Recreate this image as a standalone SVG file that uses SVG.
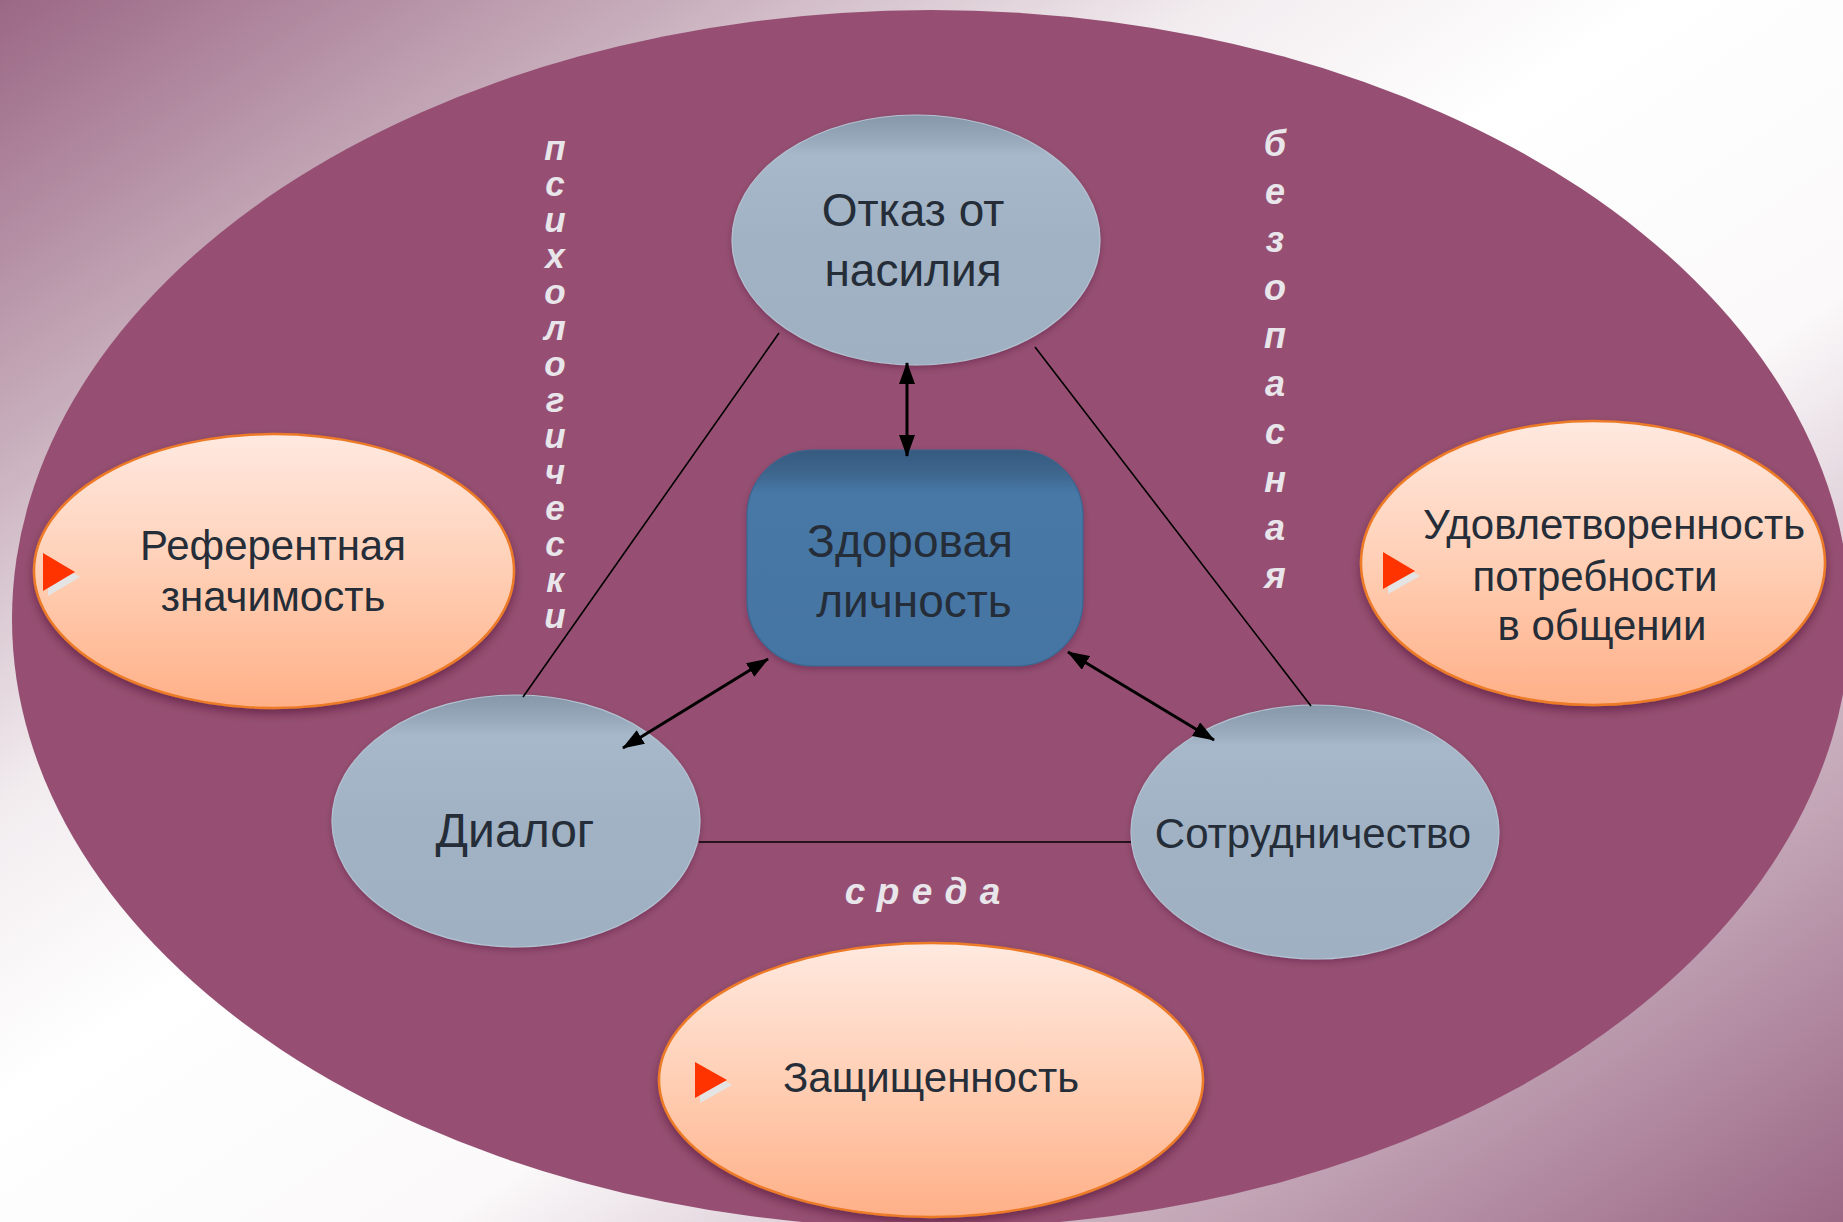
<svg xmlns="http://www.w3.org/2000/svg" width="1843" height="1222" viewBox="0 0 1843 1222">
<defs>
<style>
.t{font-family:"Liberation Sans",Arial,sans-serif;fill:#252d38;text-anchor:middle}
.v{font-family:"Liberation Sans",Arial,sans-serif;font-weight:bold;font-style:italic;fill:#e8e6ea;text-anchor:middle}
.orange{fill:url(#og);stroke:#ec7a26;stroke-width:2.5;filter:url(#sh)}
.puck{fill:url(#pg);stroke:#b3c3d3;stroke-width:1.2;filter:url(#sh2)}
.ln{stroke:#000;stroke-width:1.6;fill:none}
.ar{stroke:#000;stroke-width:3;fill:none;marker-start:url(#ah);marker-end:url(#ah)}
.tri{fill:#ff3300}
.tris{fill:#e4e4e4}
</style>
<linearGradient id="bg" x1="0" y1="0" x2="1" y2="1">
<stop offset="0" stop-color="#9b6785"/>
<stop offset="0.18" stop-color="#c7adbb"/>
<stop offset="0.33" stop-color="#f2ecef"/>
<stop offset="0.45" stop-color="#ffffff"/>
<stop offset="0.62" stop-color="#fbf9fa"/>
<stop offset="0.8" stop-color="#c8aebd"/>
<stop offset="1" stop-color="#9b6785"/>
</linearGradient>
<linearGradient id="og" x1="0" y1="0" x2="0" y2="1">
<stop offset="0" stop-color="#ffe9e0"/>
<stop offset="0.5" stop-color="#ffcfb5"/>
<stop offset="1" stop-color="#ffb088"/>
</linearGradient>
<linearGradient id="pg" x1="0" y1="0" x2="0" y2="1">
<stop offset="0" stop-color="#8597a8"/>
<stop offset="0.1" stop-color="#97a9ba"/>
<stop offset="0.16" stop-color="#a6b8c9"/>
<stop offset="0.5" stop-color="#a0b2c4"/>
<stop offset="1" stop-color="#9eb0c2"/>
</linearGradient>
<linearGradient id="rg" x1="0" y1="0" x2="0" y2="1">
<stop offset="0" stop-color="#365a7e"/>
<stop offset="0.12" stop-color="#3f6890"/>
<stop offset="0.2" stop-color="#4778a6"/>
<stop offset="1" stop-color="#4575a3"/>
</linearGradient>
<filter id="sh" x="-10%" y="-10%" width="120%" height="130%">
<feDropShadow dx="0" dy="5" stdDeviation="5" flood-color="#3a1026" flood-opacity="0.45"/>
</filter>
<filter id="sh2" x="-10%" y="-10%" width="120%" height="130%">
<feDropShadow dx="0" dy="3" stdDeviation="3" flood-color="#3a1026" flood-opacity="0.3"/>
</filter>
<marker id="ah" viewBox="0 0 22 16" refX="21" refY="8" markerWidth="22" markerHeight="16" markerUnits="userSpaceOnUse" orient="auto-start-reverse">
<path d="M0,0 L22,8 L0,16 z" fill="#000"/>
</marker>
</defs>

<rect id="background" x="0" y="0" width="1843" height="1222" fill="url(#bg)"/>
<ellipse id="outer" cx="931" cy="619" rx="919" ry="609" fill="#964f72"/>

<g id="label-psych">
<text class="v" font-size="35">
<tspan x="555" y="160">п</tspan><tspan x="555" y="196">с</tspan><tspan x="555" y="232">и</tspan><tspan x="555" y="268">х</tspan><tspan x="555" y="304">о</tspan><tspan x="555" y="340">л</tspan><tspan x="555" y="376">о</tspan><tspan x="555" y="412">г</tspan><tspan x="555" y="448">и</tspan><tspan x="555" y="484">ч</tspan><tspan x="555" y="520">е</tspan><tspan x="555" y="556">с</tspan><tspan x="555" y="592">к</tspan><tspan x="555" y="628">и</tspan>
</text>
</g>
<g id="label-safe">
<text class="v" font-size="36">
<tspan x="1275" y="156">б</tspan><tspan x="1275" y="204">е</tspan><tspan x="1275" y="252">з</tspan><tspan x="1275" y="300">о</tspan><tspan x="1275" y="348">п</tspan><tspan x="1275" y="396">а</tspan><tspan x="1275" y="444">с</tspan><tspan x="1275" y="492">н</tspan><tspan x="1275" y="540">а</tspan><tspan x="1275" y="588">я</tspan>
</text>
</g>
<g id="label-sreda">
<text class="v" font-size="37" x="855 888 922 956 990" y="904">среда</text>
</g>

<g id="node-otkaz">
<ellipse class="puck" cx="916" cy="240" rx="184" ry="125"/>
<text class="t" font-size="46" x="913" y="226">Отказ от</text>
<text class="t" font-size="46" x="913" y="286">насилия</text>
</g>

<g id="node-center">
<rect x="747" y="450" width="336" height="216" rx="66" ry="66" fill="url(#rg)" stroke="#3a6590" stroke-width="1.2" filter="url(#sh2)"/>
<text class="t" font-size="46" x="910" y="557">Здоровая</text>
<text class="t" font-size="46" x="914" y="617">личность</text>
</g>

<g id="node-dialog">
<ellipse class="puck" cx="516" cy="821" rx="184" ry="126"/>
<text class="t" font-size="48" x="515" y="847">Диалог</text>
</g>

<g id="node-sotr">
<ellipse class="puck" cx="1315" cy="832" rx="184" ry="127"/>
<text class="t" font-size="42" x="1313" y="848">Сотрудничество</text>
</g>

<g id="node-referent">
<ellipse class="orange" cx="274" cy="571" rx="240" ry="137"/>
<polygon class="tris" points="48,558 80,577 48,596"/>
<polygon class="tri" points="43,553 75,572 43,591"/>
<text class="t" font-size="42" x="273" y="560">Референтная</text>
<text class="t" font-size="42" x="273" y="611">значимость</text>
</g>

<g id="node-udovl">
<ellipse class="orange" cx="1593" cy="563" rx="232" ry="142"/>
<polygon class="tris" points="1388,557 1420,576 1388,594"/>
<polygon class="tri" points="1383,552 1415,571 1383,589"/>
<text class="t" font-size="42" x="1614" y="539">Удовлетворенность</text>
<text class="t" font-size="42" x="1595" y="591">потребности</text>
<text class="t" font-size="42" x="1602" y="640">в общении</text>
</g>

<g id="node-zashch">
<ellipse class="orange" cx="931" cy="1080" rx="272" ry="137"/>
<polygon class="tris" points="700,1067 732,1085 700,1103"/>
<polygon class="tri" points="695,1062 727,1080 695,1098"/>
<text class="t" font-size="42" x="931" y="1092">Защищенность</text>
</g>

<g id="connectors">
<line class="ln" x1="779" y1="333" x2="523" y2="697"/>
<line class="ln" x1="1035" y1="347" x2="1311" y2="706"/>
<line class="ln" x1="699" y1="842" x2="1131" y2="842"/>
<line class="ar" x1="907" y1="363" x2="907" y2="456"/>
<line class="ar" x1="768" y1="659" x2="623" y2="748"/>
<line class="ar" x1="1068" y1="652" x2="1214" y2="740"/>
</g>
</svg>
